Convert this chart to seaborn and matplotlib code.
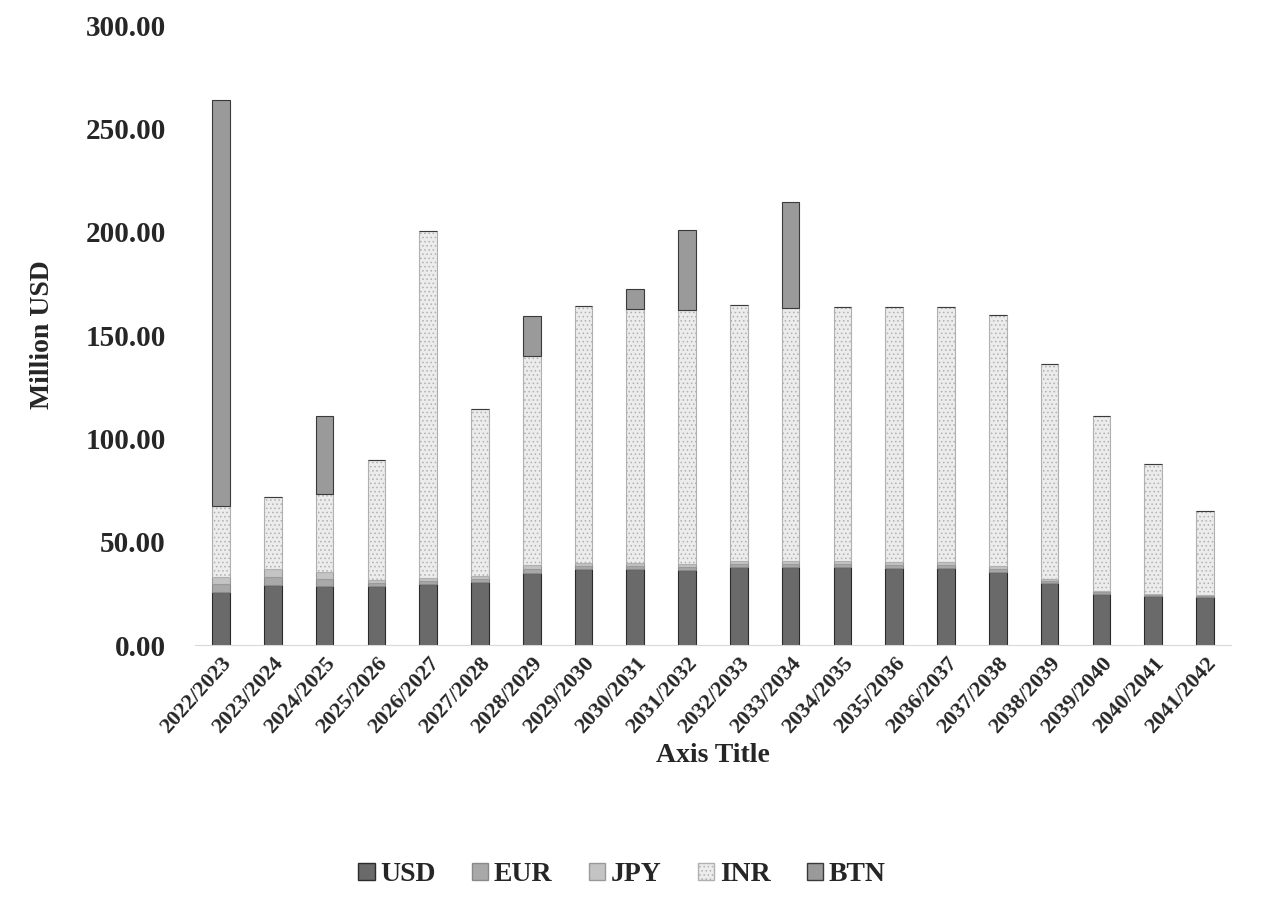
import numpy as np
import pandas as pd
import matplotlib
matplotlib.use("Agg")
import matplotlib.pyplot as plt
from matplotlib.patches import Patch
import seaborn as sns

# Data (Million USD)
years = [
    "2022/2023", "2023/2024", "2024/2025", "2025/2026", "2026/2027",
    "2027/2028", "2028/2029", "2029/2030", "2030/2031", "2031/2032",
    "2032/2033", "2033/2034", "2034/2035", "2035/2036", "2036/2037",
    "2037/2038", "2038/2039", "2039/2040", "2040/2041", "2041/2042",
]
usd = [25.5, 29.0, 28.5, 28.4, 29.3, 30.4, 34.8, 36.9, 36.9, 36.1,
       37.7, 37.7, 37.7, 37.3, 37.3, 35.2, 30.0, 24.7, 23.7, 23.2]
eur = [4.0, 4.0, 3.5, 1.5, 1.5, 1.5, 2.0, 1.5, 1.5, 1.5,
       1.5, 1.5, 1.5, 1.5, 1.5, 1.5, 1.0, 0.8, 0.5, 0.5]
jpy = [3.5, 4.0, 3.3, 1.5, 1.5, 1.5, 1.7, 1.5, 1.5, 1.5,
       1.5, 1.5, 1.5, 1.5, 1.5, 1.5, 1.0, 0.8, 0.5, 0.5]
inr = [34.3, 34.6, 37.6, 58.0, 168.2, 80.6, 101.4, 124.0, 122.8, 123.1,
       123.6, 122.4, 122.8, 123.2, 123.2, 121.6, 104.2, 84.6, 63.1, 40.7]
btn = [196.5, 0.0, 37.7, 0.0, 0.0, 0.0, 19.2, 0.0, 9.6, 38.4,
       0.0, 51.2, 0.0, 0.0, 0.0, 0.0, 0.0, 0.0, 0.0, 0.0]

series = ["USD", "EUR", "JPY", "INR", "BTN"]
values = [usd, eur, jpy, inr, btn]
colors = ["#6a6a6a", "#a9a9a9", "#c4c4c4", "#ececec", "#9a9a9a"]
edges = ["#2b2b2b", "#8a8a8a", "#9a9a9a", "#b0b0b0", "#3a3a3a"]
hatches = [None, None, None, "....", None]

sns.set_theme(style="white")
plt.rcParams["font.family"] = ["Liberation Serif", "DejaVu Serif"]
plt.rcParams["font.weight"] = "bold"
plt.rcParams["hatch.color"] = "#9a9a9a"
plt.rcParams["hatch.linewidth"] = 0.6

fig = plt.figure(figsize=(12.69, 9.13), dpi=100)
ax = fig.add_axes([0.1537, 0.2935, 0.8163, 0.6791])

# stacked bars, one seaborn layer per currency
bottom = np.zeros(len(years))
for name, vals, col, ec, h in zip(series, values, colors, edges, hatches):
    df = pd.DataFrame({"year": years, "value": vals})
    sns.barplot(data=df, x="year", y="value", color=col, width=0.34,
                bottom=bottom.copy(), edgecolor=ec, linewidth=0.8,
                hatch=h, saturation=1, ax=ax)
    bottom += np.array(vals)

ax.set_ylim(0, 300)
ax.set_xlim(-0.5, len(years) - 0.5)
ax.set_yticks(np.arange(0, 301, 50))
ax.set_yticklabels([f"{v:.2f}" for v in np.arange(0, 301, 50)],
                   fontsize=21, fontweight="bold")
ax.set_xticks(range(len(years)))
ax.set_xticklabels(years, rotation=48, ha="right", rotation_mode="anchor",
                   fontsize=16, fontweight="bold")
ax.tick_params(axis="x", length=0, pad=6)
ax.tick_params(axis="y", length=0, pad=21)

for side in ["top", "right", "left"]:
    ax.spines[side].set_visible(False)
ax.spines["bottom"].set_color("#d8d8d8")
ax.spines["bottom"].set_linewidth(0.8)

ax.set_xlabel("Axis Title", fontsize=20, fontweight="bold", labelpad=4)
ax.set_ylabel("Million USD", fontsize=20, fontweight="bold", labelpad=22)

handles = [Patch(facecolor=c, edgecolor=e, hatch=h, label=s)
           for s, c, e, h in zip(series, colors, edges, hatches)]
fig.legend(handles=handles, loc="center", bbox_to_anchor=(0.49, 0.042),
           ncol=5, frameon=False, handlelength=0.6,
           handleheight=0.6, handletextpad=0.2, columnspacing=1.3,
           prop={"weight": "bold", "size": 20})

fig.savefig("out.png", dpi=100)
